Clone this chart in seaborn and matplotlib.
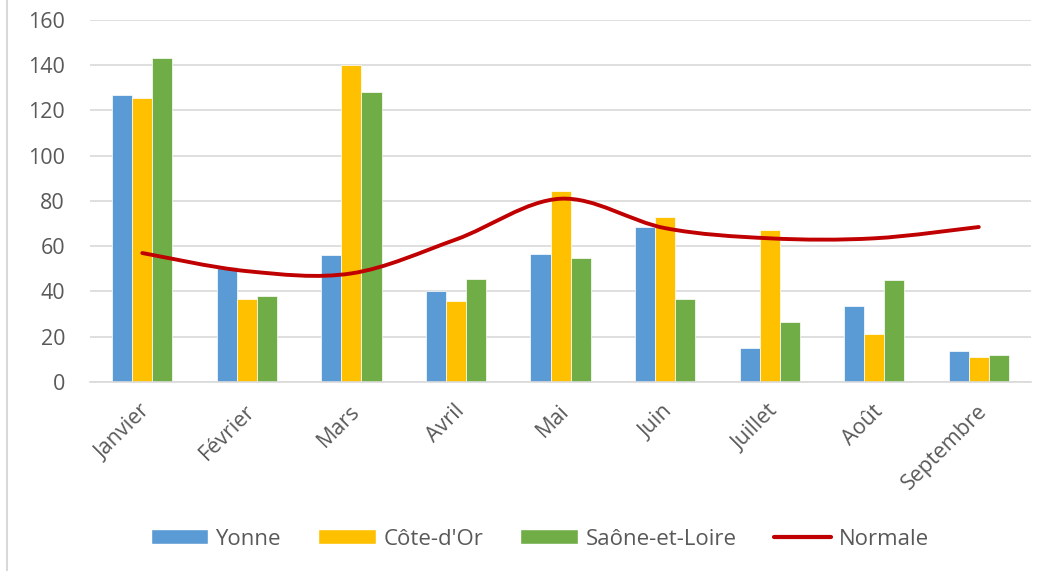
import matplotlib.pyplot as plt
import matplotlib.transforms as mtransforms
import seaborn as sns
import pandas as pd
import numpy as np
from matplotlib.path import Path
from matplotlib.patches import PathPatch, Patch
from matplotlib.lines import Line2D

mois = ['Janvier', 'Février', 'Mars', 'Avril', 'Mai', 'Juin', 'Juillet', 'Août', 'Septembre']
yonne = [127, 51, 56, 40, 56.5, 68.5, 15, 33.5, 13.5]
cote_dor = [125.5, 36.5, 140, 36, 84.5, 73, 67, 21, 11]
saone = [143, 38, 128, 45.5, 55, 36.5, 26.5, 45, 12]
normale = [57, 49, 48, 63, 81, 68, 63.5, 63.5, 68.5]

series = ['Yonne', "Côte-d'Or", 'Saône-et-Loire']
couleurs = ['#5B9BD5', '#FFC000', '#70AD47']
rouge = '#C00000'

df = pd.DataFrame({
    'mois': mois * 3,
    'valeur': yonne + cote_dor + saone,
    'serie': [s for s in series for _ in mois],
})

sns.set_style('white')
plt.rcParams['font.family'] = ['Open Sans', 'DejaVu Sans']

fig = plt.figure(figsize=(10.52, 5.71), dpi=100)
ax = fig.add_axes([0.0856, 0.331, 0.8945, 0.634])

sns.barplot(data=df, x='mois', y='valeur', hue='serie', palette=couleurs,
            saturation=1, width=0.575, gap=0, edgecolor='white', linewidth=0.5,
            legend=False, ax=ax)

# courbe lissée (Catmull-Rom -> Bezier) pour la normale
x = np.arange(len(normale), dtype=float)
y = np.array(normale, dtype=float)
px = np.concatenate([[x[0]], x, [x[-1]]])
py = np.concatenate([[y[0]], y, [y[-1]]])
verts = [(x[0], y[0])]
codes = [Path.MOVETO]
for i in range(len(x) - 1):
    j = i + 1
    c1 = (px[j] + (px[j + 1] - px[j - 1]) / 6, py[j] + (py[j + 1] - py[j - 1]) / 6)
    c2 = (px[j + 1] - (px[j + 2] - px[j]) / 6, py[j + 1] - (py[j + 2] - py[j]) / 6)
    verts += [c1, c2, (x[j], y[j])]
    codes += [Path.CURVE4] * 3
ax.add_patch(PathPatch(Path(verts, codes), facecolor='none', edgecolor=rouge,
                       linewidth=2.8, capstyle='round', zorder=5))

ax.set_xlim(-0.5, 8.5)
ax.set_ylim(0, 160)
ax.set_yticks(range(0, 161, 20))
ax.set_xlabel('')
ax.set_ylabel('')
ax.grid(axis='y', color='#D9D9D9', linewidth=1.2)
ax.set_axisbelow(True)
for s in ['top', 'right', 'left']:
    ax.spines[s].set_visible(False)
ax.spines['bottom'].set_color('#D9D9D9')
ax.spines['bottom'].set_linewidth(1.2)
ax.tick_params(axis='both', length=0, labelsize=15.5, labelcolor='#595959')
ax.tick_params(axis='y', pad=18)
ax.tick_params(axis='x', pad=19)
decale = mtransforms.ScaledTranslation(5 / 100, 0, fig.dpi_scale_trans)
for lab in ax.get_xticklabels():
    lab.set_rotation(45)
    lab.set_ha('right')
    lab.set_va('center')
    lab.set_rotation_mode('anchor')
    lab.set_transform(lab.get_transform() + decale)

handles = [Patch(facecolor=c, label=s) for c, s in zip(couleurs, series)]
handles.append(Line2D([0], [0], color=rouge, linewidth=3, label='Normale'))
fig.legend(handles=handles, loc='center', bbox_to_anchor=(0.513, 0.056), ncol=4,
           frameon=False, fontsize=16, labelcolor='#595959', handlelength=2.6,
           handleheight=0.63, handletextpad=0.32, columnspacing=1.68)

fig.add_artist(Line2D([0.007, 0.007], [0, 1], color='#D9D9D9', linewidth=1.5,
                      transform=fig.transFigure))

fig.savefig('out.png', dpi=100)
